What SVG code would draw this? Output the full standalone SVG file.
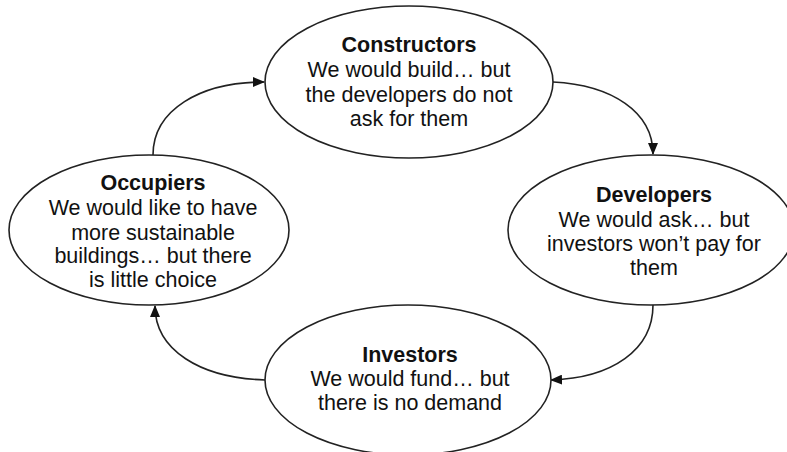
<svg xmlns="http://www.w3.org/2000/svg" width="787" height="452" viewBox="0 0 787 452">
<style>
.node ellipse{fill:#fff;stroke:#222;stroke-width:1.6}
text{font-family:"Liberation Sans",Arial,sans-serif;font-size:21.5px;fill:#111;text-anchor:middle}
.t{font-weight:bold}
.conn path{fill:none;stroke:#222;stroke-width:1.6}
</style>
<defs>
<marker id="arr" markerWidth="12" markerHeight="10" refX="11" refY="5" orient="auto" markerUnits="userSpaceOnUse">
<path d="M0,0 L12,5 L0,10 Z" fill="#111"/>
</marker>
</defs>
<rect width="787" height="452" fill="#fff"/>
<g class="conn">
<path d="M153,155 C153,110 200,82 264,82" marker-end="url(#arr)"/>
<path d="M553,82 C612,85 653,112 653,154" marker-end="url(#arr)"/>
<path d="M653,305 C653,350 612,378 551,380" marker-end="url(#arr)"/>
<path d="M265,380 C200,378 155,350 155,306" marker-end="url(#arr)"/>
</g>
<g id="constructors" class="node">
<ellipse cx="409" cy="82" rx="144" ry="76"/>
<text class="t" x="409" y="52">Constructors</text>
<text x="409" y="77">We would build… but</text>
<text x="409" y="102">the developers do not</text>
<text x="409" y="126">ask for them</text>
</g>
<g id="developers" class="node">
<ellipse cx="651" cy="230" rx="143" ry="75"/>
<text class="t" x="654" y="202">Developers</text>
<text x="654" y="227">We would ask… but</text>
<text x="654" y="251">investors won’t pay for</text>
<text x="654" y="275">them</text>
</g>
<g id="occupiers" class="node">
<ellipse cx="149" cy="230" rx="140" ry="75"/>
<text class="t" x="153" y="190">Occupiers</text>
<text x="153" y="215">We would like to have</text>
<text x="153" y="240">more sustainable</text>
<text x="153" y="263">buildings… but there</text>
<text x="153" y="287">is little choice</text>
</g>
<g id="investors" class="node">
<ellipse cx="408" cy="380" rx="143" ry="75"/>
<text class="t" x="410" y="362">Investors</text>
<text x="410" y="386">We would fund… but</text>
<text x="410" y="410">there is no demand</text>
</g>
</svg>
